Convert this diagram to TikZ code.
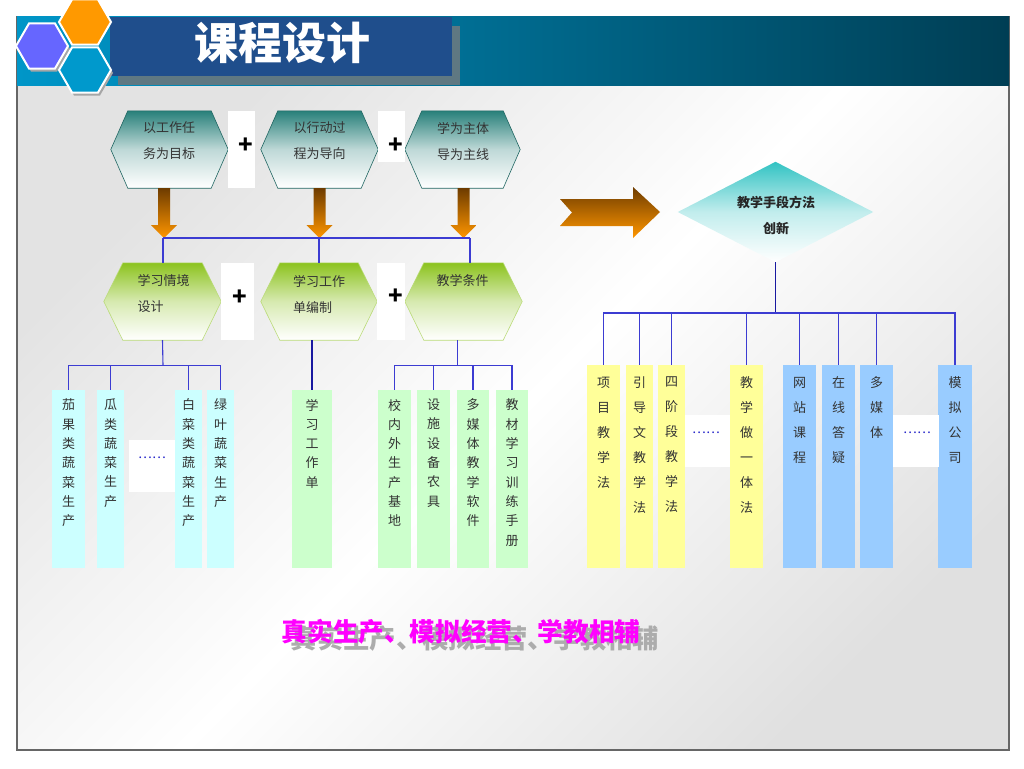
\documentclass[tikz,border=0pt]{standalone}
\usepackage{fontspec}
\setmainfont{Noto Sans CJK SC}
\usetikzlibrary{shapes.geometric,calc}
\definecolor{hdrL}{RGB}{0,150,200}
\definecolor{hdrR}{RGB}{0,62,84}
\definecolor{titlebox}{RGB}{31,78,140}
\definecolor{titleshadow}{RGB}{95,120,130}
\definecolor{hexteal}{RGB}{40,128,122}
\definecolor{hexgreen}{RGB}{140,195,30}
\definecolor{cyanbox}{RGB}{204,255,255}
\definecolor{greenbox}{RGB}{204,255,204}
\definecolor{yellowbox}{RGB}{255,255,153}
\definecolor{bluebox}{RGB}{153,204,255}
\definecolor{connblue}{RGB}{60,60,210}
\definecolor{conndark}{RGB}{25,25,160}
\definecolor{arrbrown}{RGB}{110,60,0}
\definecolor{arrorange}{RGB}{255,150,0}
\definecolor{diamtop}{RGB}{50,195,195}
\definecolor{dotblue}{RGB}{30,30,200}
\definecolor{logopurple}{RGB}{102,102,255}
\definecolor{logoorange}{RGB}{255,153,0}
\definecolor{logoblue}{RGB}{0,153,204}
\definecolor{magentatext}{RGB}{255,0,255}
\newcommand\hexpath[3]{\path[#3] (#1.west) -- ([xshift=#2]#1.north west) -- ([xshift=-#2]#1.north east) -- (#1.east) -- ([xshift=-#2]#1.south east) -- ([xshift=#2]#1.south west) -- cycle;}
\newcommand\dnarrow[1]{\path[arrowshade] #1 ++(-6,0) -- ++(12,0) -- ++(0,37) -- ++(7,0) -- ++(-13,13) -- ++(-13,-13) -- ++(7,0) -- cycle;}
\begin{document}
\begin{tikzpicture}[x=1pt,y=-1pt,
  hexbox/.style={rectangle,inner sep=0pt,minimum height=77pt},
  tealhex/.style={top color=hexteal, bottom color=white, middle color=hexteal!30!white, draw=hexteal!80!black, line width=0.6pt},
  greenhex/.style={top color=hexgreen, bottom color=white, middle color=hexgreen!35!white, draw=hexgreen!60!white, line width=0.6pt},
  hextext/.style={font=\fontsize{13}{26}\selectfont, align=left, inner sep=0pt, text=black!80},
  plusbox/.style={rectangle, fill=white, inner sep=0pt},
  plussign/.style={font=\fontsize{24}{24}\selectfont\bfseries, inner sep=0pt},
  colL/.style={rectangle, inner sep=0pt, minimum height=178pt},
  colR/.style={rectangle, inner sep=0pt, minimum height=203pt},
  vtL/.style={font=\fontsize{13}{19.3}\selectfont, align=center, inner sep=0pt, anchor=north, text=black!80},
  vtR/.style={font=\fontsize{13}{25}\selectfont, align=center, inner sep=0pt, anchor=north, text=black!80},
  dotbox/.style={rectangle, fill=white, inner sep=0pt},
  dots/.style={font=\fontsize{13}{13}\selectfont, text=dotblue, inner sep=0pt},
  conn/.style={draw=connblue, line width=1.1pt},
  connthick/.style={draw=conndark, line width=1.8pt},
  arrowshade/.style={top color=arrbrown, bottom color=arrorange},
  logohex/.style={regular polygon, regular polygon sides=6, minimum size=52pt, inner sep=0pt, draw=white, line width=2pt},
]
\useasboundingbox (0,0) rectangle (1024,768);
\fill[white] (0,0) rectangle (1024,768);
% slide background
\path[top color=gray!22, bottom color=gray!24, middle color=white, shading angle=45] (17,85) rectangle (1009,750);
\draw[line width=1.3pt, draw=black!60] (17,17) rectangle (1009,750);
% header
\shade[left color=hdrL, right color=hdrR] (17,17) rectangle (1009,85);
\fill[titleshadow] (118,26) rectangle (460,85);
\fill[titlebox] (110,17) rectangle (452,76);
\node[font=\fontsize{44}{44}\selectfont\bfseries, text=white, inner sep=0pt] (title) at (282,43) {课程设计};
% logo
\fill[gray!70] (44,49) ++(0:26) -- ++(120:26) -- ++(180:26) -- ++(240:26) -- ++(300:26) -- ++(0:26) -- cycle;
\node[logohex, fill=logopurple] (lp) at (42,46) {};
\node[logohex, fill=logoorange] (lo) at (85,22) {};
\fill[gray!70] (87,73) ++(0:26) -- ++(120:26) -- ++(180:26) -- ++(240:26) -- ++(300:26) -- ++(0:26) -- cycle;
\node[logohex, fill=logoblue] (lb) at (85,70) {};

% top hexagons
\node[hexbox, minimum width=117pt] (t1) at (169.5,149.5) {};
\node[hexbox, minimum width=117pt] (t2) at (319.5,149.5) {};
\node[hexbox, minimum width=115pt] (t3) at (462.5,149.5) {};
\hexpath{t1}{17pt}{tealhex}
\hexpath{t2}{17pt}{tealhex}
\hexpath{t3}{17pt}{tealhex}
\node[hextext] (t1x) at (169,141) {以工作任\\务为目标};
\node[hextext] (t2x) at (319.5,141) {以行动过\\程为导向};
\node[hextext] (t3x) at (463,141) {学为主体\\导为主线};
\node[plusbox, minimum width=27pt, minimum height=77pt] (p1) at (241.5,149.5) {};
\node[plusbox, minimum width=27pt, minimum height=51pt] (p2) at (391.5,136.5) {};
\node[plussign] (p1s) at (245.5,146) {+};
\node[plussign] (p2s) at (396,146) {+};

% green hexagons
\node[hexbox, minimum width=117pt] (g1) at (162.5,301.5) {};
\node[hexbox, minimum width=116pt] (g2) at (319,301.5) {};
\node[hexbox, minimum width=117pt] (g3) at (463.5,301.5) {};
\hexpath{g1}{19pt}{greenhex}
\hexpath{g2}{19pt}{greenhex}
\hexpath{g3}{19pt}{greenhex}
\node[hextext] (g1x) at (163.5,294) {学习情境\\设计};
\node[hextext] (g2x) at (319,294) {学习工作\\单编制};
\node[hextext] (g3x) at (462.5,281) {教学条件};
\node[plusbox, minimum width=33pt, minimum height=77pt] (p3) at (237.5,301.5) {};
\node[plusbox, minimum width=28pt, minimum height=77pt] (p4) at (391,301.5) {};
\node[plussign] (p3s) at (239.5,297.5) {+};
\node[plussign] (p4s) at (395.5,297) {+};

% orange down arrows
\dnarrow{([xshift=-5.5pt]t1.south)}
\dnarrow{([xshift=0pt]t2.south)}
\dnarrow{([xshift=1pt]t3.south)}

% bus between rows
\coordinate (busL) at (163,238);
\coordinate (busR) at (470,238);
\draw[conn] (busL) -- (busR);
\draw[conn] (busL) -- (busL |- g1.north);
\draw[conn] (g2.north |- busL) -- (g2.north);
\draw[conn] (busR) -- (busR |- g3.north);

% left columns
\node[colL, fill=cyanbox, minimum width=33pt] (c1) at (68.5,479) {};
\node[colL, fill=cyanbox, minimum width=27pt] (c2) at (110.5,479) {};
\node[colL, fill=cyanbox, minimum width=27pt] (c3) at (188.5,479) {};
\node[colL, fill=cyanbox, minimum width=27pt] (c4) at (220.5,479) {};
\node[vtL] (c1x) at ([yshift=-9pt]c1.north) {茄\\果\\类\\蔬\\菜\\生\\产};
\node[vtL] (c2x) at ([yshift=-9pt]c2.north) {瓜\\类\\蔬\\菜\\生\\产};
\node[vtL] (c3x) at ([yshift=-9pt]c3.north) {白\\菜\\类\\蔬\\菜\\生\\产};
\node[vtL] (c4x) at ([yshift=-9pt]c4.north) {绿\\叶\\蔬\\菜\\生\\产};
\node[dotbox, minimum width=46pt, minimum height=52pt] (e1) at (152,466) {};
\node[dots] (e1x) at (152,458) {……};

\node[colL, fill=greenbox, minimum width=40pt] (w1) at (312,479) {};
\node[vtL] (w1x) at ([yshift=-9pt]w1.north) {学\\习\\工\\作\\单};
\node[colL, fill=greenbox, minimum width=33pt] (w2) at (394.5,479) {};
\node[colL, fill=greenbox, minimum width=33pt] (w3) at (433.5,479) {};
\node[colL, fill=greenbox, minimum width=32pt] (w4) at (473,479) {};
\node[colL, fill=greenbox, minimum width=32pt] (w5) at (512,479) {};
\node[vtL] (w2x) at ([yshift=-9pt]w2.north) {校\\内\\外\\生\\产\\基\\地};
\node[vtL] (w3x) at ([yshift=-9pt]w3.north) {设\\施\\设\\备\\农\\具};
\node[vtL] (w4x) at ([yshift=-9pt]w4.north) {多\\媒\\体\\教\\学\\软\\件};
\node[vtL] (w5x) at ([yshift=-9pt]w5.north) {教\\材\\学\\习\\训\\练\\手\\册};

% left connectors
\coordinate (j1) at ($(g1.south)+(0.5,25)$);
\draw[conn] (g1.south) -- (j1);
\draw[conn] (c1.north) |- (j1) -| (c4.north);
\draw[conn] (c2.north) -- (c2.north |- j1);
\draw[conn] (c3.north) -- (c3.north |- j1);
\draw[connthick] (w1.north |- g2.south) -- (w1.north);
\coordinate (j3) at ($(g3.south)+(-6,25)$);
\draw[conn] ($(g3.south)+(-6,0)$) -- (j3);
\draw[conn] (w2.north) |- (j3) -| (w5.north);
\draw[conn] (w3.north) -- (w3.north |- j3);
\draw[conn] (w4.north) -- (w4.north |- j3);

% big right arrow
\path[top color=arrbrown, bottom color=arrorange] (560,199) -- (633,199) -- (633,187) -- (660,212) -- (633,238) -- (633,226) -- (560,226) -- (572,212.5) -- cycle;

% diamond
\node[rectangle, inner sep=0pt, minimum width=195pt, minimum height=100pt] (d) at (775.5,212) {};
\path[top color=diamtop, bottom color=white, middle color=diamtop!30!white] (d.north) -- (d.east) -- (d.south) -- (d.west) -- cycle;
\node[font=\fontsize{13}{26}\selectfont\bfseries, align=center, inner sep=0pt, text=black!85] (dx) at (776,215) {教学手段方法\\创新};

% right columns
\node[colR, fill=yellowbox, minimum width=33pt] (y1) at (603.5,466.5) {};
\node[colR, fill=yellowbox, minimum width=27pt] (y2) at (639.5,466.5) {};
\node[colR, fill=yellowbox, minimum width=27pt] (y3) at (671.5,466.5) {};
\node[colR, fill=yellowbox, minimum width=33pt] (y4) at (746.5,466.5) {};
\node[colR, fill=bluebox, minimum width=33pt] (b1) at (799.5,466.5) {};
\node[colR, fill=bluebox, minimum width=33pt] (b2) at (838.5,466.5) {};
\node[colR, fill=bluebox, minimum width=33pt] (b3) at (876.5,466.5) {};
\node[colR, fill=bluebox, minimum width=34pt] (b4) at (955,466.5) {};
\node[vtR] (y1x) at ([yshift=-12pt]y1.north) {项\\目\\教\\学\\法};
\node[vtR] (y2x) at ([yshift=-12pt]y2.north) {引\\导\\文\\教\\学\\法};
\node[vtR] (y3x) at ([yshift=-12pt]y3.north) {四\\阶\\段\\教\\学\\法};
\node[vtR] (y4x) at ([yshift=-12pt]y4.north) {教\\学\\做\\一\\体\\法};
\node[vtR] (b1x) at ([yshift=-12pt]b1.north) {网\\站\\课\\程};
\node[vtR] (b2x) at ([yshift=-12pt]b2.north) {在\\线\\答\\疑};
\node[vtR] (b3x) at ([yshift=-12pt]b3.north) {多\\媒\\体};
\node[vtR] (b4x) at ([yshift=-12pt]b4.north) {模\\拟\\公\\司};
\node[dotbox, minimum width=45pt, minimum height=52pt] (e2) at (707.5,441) {};
\node[dots] (e2x) at (706,433) {……};
\node[dotbox, minimum width=46pt, minimum height=52pt] (e3) at (916,441) {};
\node[dots] (e3x) at (917,433) {……};

% right connectors
\coordinate (jr) at (775.5,313);
\draw[connthick] (d.south) -- (jr);
\draw[conn] (y1.north) |- (jr) -| (b4.north);
\foreach \n in {y2,y3,y4,b1,b2,b3}{\draw[conn] (\n.north) -- (\n.north |- jr);}

% slogan
\node[font=\fontsize{26.3}{26.3}\selectfont\bfseries, text=gray!65, inner sep=0pt] (sloganshadow) at (475,638) {真实生产、模拟经营、学教相辅};
\node[font=\fontsize{25.6}{25.6}\selectfont\bfseries, text=magentatext, inner sep=0pt] (slogan) at (461,632) {真实生产、模拟经营、学教相辅};
\end{tikzpicture}
\end{document}
